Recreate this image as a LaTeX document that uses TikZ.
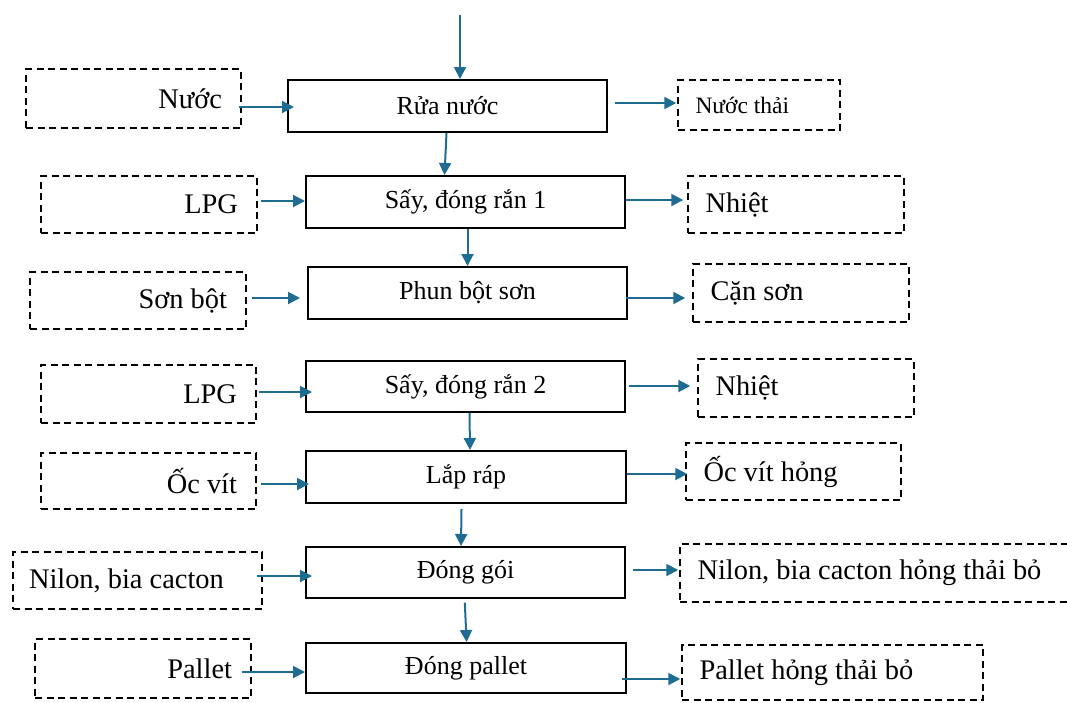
\documentclass[tikz,border=0pt]{standalone}
\usepackage{fontspec}
\setmainfont{Liberation Serif}
\usetikzlibrary{arrows.meta,calc}
\definecolor{flowblue}{HTML}{1F6C93}
\begin{document}
\begin{tikzpicture}[x=1pt,y=-1pt,
  stage/.style={draw=black, line width=2pt, inner sep=0pt,
    font=\fontsize{26}{30}\selectfont},
  feedbox/.style={draw=black, line width=1.5pt, dash pattern=on 7pt off 4.5pt,
    inner xsep=19pt, inner ysep=0pt, align=flush right,
    font=\fontsize{28.4}{32}\selectfont},
  wastebox/.style={draw=black, line width=1.5pt, dash pattern=on 7pt off 4.5pt,
    inner xsep=17.5pt, inner ysep=0pt, align=flush left,
    font=\fontsize{28.4}{32}\selectfont},
  flow/.style={draw=flowblue, line width=2pt, -{Triangle[length=12pt,width=12pt]}}
]
\useasboundingbox (0,0) rectangle (1067,702);
\clip (0,0) rectangle (1067,702);

% process stages
\node[stage, minimum width=319pt, minimum height=52pt] (r1) at (447.5,106) {Rửa nước};
\node[stage, minimum width=319pt, minimum height=52pt] (r2) at (465.5,202) {Sấy, đóng rắn 1};
\node[stage, minimum width=319pt, minimum height=52pt] (r3) at (467.5,293) {Phun bột sơn};
\node[stage, minimum width=319pt, minimum height=51pt] (r4) at (465.5,386.5) {Sấy, đóng rắn 2};
\node[stage, minimum width=320pt, minimum height=52pt] (r5) at (466,477) {Lắp ráp};
\node[stage, minimum width=319pt, minimum height=51pt] (r6) at (465.5,572.5) {Đóng gói};
\node[stage, minimum width=320pt, minimum height=50pt] (r7) at (466,668) {Đóng pallet};

% inputs
\node[feedbox, text width=177pt, minimum height=59pt] (a1) at (133.5,98.5) {Nước};
\node[feedbox, text width=178pt, minimum height=57pt] (a2) at (149,204.5) {LPG};
\node[feedbox, text width=178pt, minimum height=57pt] (a3) at (138,300.5) {Sơn bột};
\node[feedbox, text width=177pt, minimum height=58pt] (a4) at (148.5,394) {LPG};
\node[feedbox, text width=177pt, minimum height=56pt] (a5) at (148.5,481) {Ốc vít};
\node[feedbox, inner xsep=16pt, align=flush left, text width=217pt, minimum height=57pt] (a6) at (137.5,580.5) {Nilon, bia cacton};
\node[feedbox, text width=178pt, minimum height=59pt] (a7) at (143,668.5) {Pallet};

% outputs
\node[wastebox, text width=127pt, minimum height=50pt, font=\fontsize{23.5}{28}\selectfont] (b1) at (759,105) {Nước thải};
\node[wastebox, text width=181pt, minimum height=57pt] (b2) at (796,204.5) {Nhiệt};
\node[wastebox, text width=181pt, minimum height=58pt] (b3) at (801,293) {Cặn sơn};
\node[wastebox, text width=181pt, minimum height=58pt] (b4) at (806,388) {Nhiệt};
\node[wastebox, text width=180pt, minimum height=57pt] (b5) at (793.5,471.5) {Ốc vít hỏng};
\node[wastebox, text width=360pt, minimum height=58pt] (b6) at (877.5,573) {Nilon, bia cacton hỏng thải bỏ};
\node[wastebox, text width=266pt, minimum height=55pt] (b7) at (832.5,672.5) {Pallet hỏng thải bỏ};

% main line
\coordinate (feed) at (460,15);
\draw[flow] (feed) -- (feed |- r1.north);
\draw[flow] ($(r1.south)+(-1,0)$) -- ($(r2.north)+(-21,0)$);
\draw[flow] (r2.south -| r3.north) -- (r3.north);
\draw[flow] ($(r4.south)+(4,0)$) -- ($(r5.north)+(4,0)$);
\draw[flow] ($(r5.south)+(-4.5,5)$) -- ($(r6.north)+(-4.5,0)$);
\draw[flow] ($(r6.south)+(-0.7,3.7)$) -- ($(r7.north)+(0.6,0)$);

% inputs into stages
\draw[flow] ($(a1.east|-r1.west)+(-3,1)$) -- ($(r1.west)+(7,1)$);
\draw[flow] ($(a2.east|-r2.west)+(3,-1)$) -- ($(r2.west)+(0,-1)$);
\draw[flow] ($(a3.east|-r3.west)+(5,5)$) -- ($(r3.west)+(-7,5)$);
\draw[flow] ($(a4.east|-r4.west)+(2,5.5)$) -- ($(r4.west)+(7,5.5)$);
\draw[flow] ($(a5.east|-r5.west)+(4.5,7)$) -- ($(r5.west)+(4,7)$);
\draw[flow] ($(a6.east|-r6.west)+(-5.5,3.5)$) -- ($(r6.west)+(7,3.5)$);
\draw[flow] ($(a7.east|-r7.west)+(-10,4)$) -- ($(r7.west)+(0,4)$);

% stage outputs
\draw[flow] ($(r1.east|-b1.west)+(7,-2)$) -- ($(b1.west)+(-1,-2)$);
\draw[flow] ($(r2.east|-b2.west)+(0,-4.5)$) -- ($(b2.west)+(-4,-4.5)$);
\draw[flow] ($(r3.east|-b3.west)+(-2.5,5)$) -- ($(b3.west)+(-7,5)$);
\draw[flow] ($(r4.east|-b4.west)+(2.5,-2)$) -- ($(b4.west)+(-7,-2)$);
\draw[flow] ($(r5.east|-b5.west)+(0,2.5)$) -- ($(b5.west)+(2,2.5)$);
\draw[flow] ($(r6.east|-b6.west)+(7,-3)$) -- ($(b6.west)+(-1,-3)$);
\draw[flow] ($(r7.east|-b7.west)+(-5.5,6.5)$) -- ($(b7.west)+(-1,6.5)$);
\end{tikzpicture}
\end{document}
